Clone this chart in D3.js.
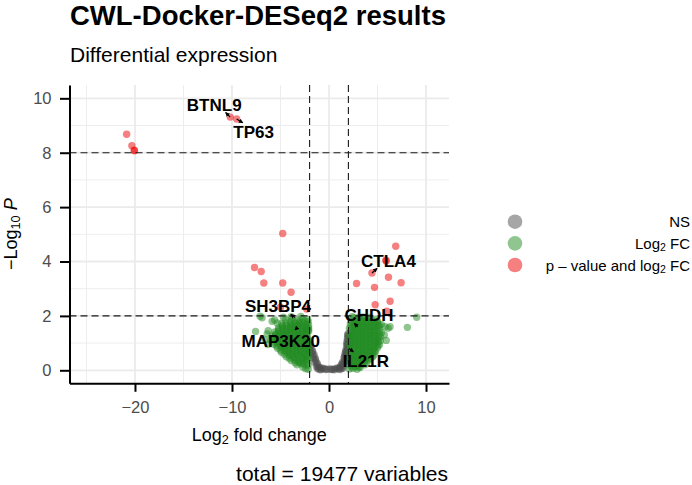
<!DOCTYPE html>
<html>
<head>
<meta charset="utf-8">
<title>CWL-Docker-DESeq2 results</title>
<script src="https://cdn.jsdelivr.net/npm/d3@7"></script>
<style>
  body { margin: 0; background: #fff; }
  svg text { font-family: "Liberation Sans", Arial, Helvetica, sans-serif; }
</style>
</head>
<body>
<div id="chart"></div>
<script>
// values, each point is [log2 fold change, -log10 p]
var nsPoints = [
  [-1.1,0.05],[-0.8,0.04],[-0.5,0.06],[-0.2,0.04],[0.1,0.05],[0.4,0.04],[0.7,0.06],[1.0,0.05],[1.3,0.07],
  [-0.95,0.1],[-0.65,0.08],[0.85,0.09],[1.1,0.1],
  [-0.9,0.02],[-0.35,0.03],[0.25,0.03],[0.55,0.02],[1.15,0.03],[-1.2,0.08],[1.45,0.08],
  [-1.3,0.15],[-1.05,0.13],[1.2,0.15],[1.5,0.17],
  [-1.2,0.22],[1.3,0.22],[1.45,0.25],
  [-1.5,0.3],[-1.25,0.28],[1.4,0.3],[1.7,0.32],
  [-1.4,0.37],[1.6,0.38],
  [-1.65,0.45],[-1.4,0.43],[1.55,0.45],[1.85,0.47],
  [-1.55,0.52],[1.75,0.53],[1.6,0.52],
  [-1.8,0.6],[-1.55,0.58],[1.65,0.6],[1.9,0.62],
  [-1.7,0.67],[1.8,0.68],[1.7,0.68],
  [-1.95,0.75],[-1.7,0.72],[1.75,0.75],[1.95,0.78],
  [-1.85,0.82],[1.9,0.83],
  [-1.95,0.88],[1.8,0.9],[1.95,0.95],[-1.98,0.95],
  [1.85,0.98],[1.85,1.05],[1.95,1.12],[1.9,1.18],[1.97,1.25],[1.92,1.3],[1.98,1.35]
];

var fcPoints = [
  // left cloud
  [-2.4,0.06],[-2.15,0.04],[-2.7,0.12],
  [-3.3,0.2],[-2.9,0.24],[-2.5,0.21],[-2.15,0.19],
  [-3.5,0.28],[-3.1,0.29],[-2.7,0.27],[-2.3,0.3],
  [-3.9,0.36],[-3.5,0.38],[-3.1,0.34],[-2.7,0.39],[-2.3,0.36],
  [-4.1,0.44],[-3.7,0.45],[-3.3,0.43],[-2.9,0.46],[-2.5,0.44],[-2.2,0.42],
  [-4.4,0.5],[-4.0,0.54],[-3.6,0.51],[-3.2,0.55],[-2.8,0.5],[-2.4,0.53],[-2.1,0.49],
  [-4.6,0.59],[-4.2,0.6],[-3.8,0.58],[-3.4,0.61],[-3.0,0.59],[-2.6,0.6],[-2.2,0.58],
  [-4.9,0.66],[-4.5,0.69],[-4.1,0.65],[-3.7,0.68],[-3.3,0.66],[-2.9,0.7],[-2.5,0.65],[-2.1,0.68],
  [-5.0,0.74],[-4.6,0.75],[-4.2,0.73],[-3.8,0.76],[-3.4,0.74],[-3.0,0.75],[-2.6,0.73],[-2.25,0.76],
  [-5.3,0.81],[-4.9,0.84],[-4.5,0.8],[-4.1,0.83],[-3.7,0.81],[-3.3,0.85],[-2.9,0.8],[-2.5,0.83],[-2.15,0.8],
  [-5.4,0.89],[-5.0,0.9],[-4.6,0.88],[-4.2,0.91],[-3.8,0.89],[-3.4,0.9],[-3.0,0.88],[-2.6,0.91],[-2.2,0.89],
  [-5.7,0.96],[-5.3,0.99],[-4.9,0.95],[-4.5,0.98],[-4.1,0.96],[-3.7,1.0],[-3.3,0.95],[-2.9,0.98],[-2.5,0.96],[-2.1,0.99],
  [-5.7,1.04],[-5.3,1.05],[-4.9,1.03],[-4.5,1.06],[-4.1,1.04],[-3.7,1.05],[-3.3,1.03],[-2.9,1.06],[-2.5,1.04],[-2.2,1.05],
  [-6.0,1.11],[-5.6,1.14],[-5.2,1.1],[-4.8,1.13],[-4.4,1.11],[-4.0,1.15],[-3.6,1.1],[-3.2,1.13],[-2.8,1.11],[-2.4,1.14],[-2.1,1.1],
  [-5.7,1.19],[-5.3,1.2],[-4.9,1.18],[-4.5,1.21],[-4.1,1.19],[-3.7,1.2],[-3.3,1.18],[-2.9,1.21],[-2.5,1.19],[-2.2,1.2],
  [-5.9,1.26],[-5.5,1.29],[-5.1,1.25],[-4.7,1.28],[-4.3,1.26],[-3.9,1.3],[-3.5,1.25],[-3.1,1.28],[-2.7,1.26],[-2.3,1.29],
  [-5.5,1.34],[-5.1,1.35],[-4.7,1.33],[-4.3,1.36],[-3.9,1.34],[-3.5,1.35],[-3.1,1.33],[-2.7,1.36],[-2.3,1.34],
  [-5.6,1.41],[-5.2,1.44],[-4.8,1.4],[-4.4,1.43],[-4.0,1.41],[-3.6,1.45],[-3.2,1.4],[-2.8,1.43],[-2.4,1.41],[-2.1,1.44],
  [-5.2,1.49],[-4.8,1.5],[-4.4,1.48],[-4.0,1.51],[-3.6,1.49],[-3.2,1.5],[-2.8,1.48],[-2.4,1.51],[-2.1,1.49],
  [-5.2,1.56],[-4.8,1.59],[-4.4,1.55],[-4.0,1.58],[-3.6,1.56],[-3.2,1.6],[-2.8,1.55],[-2.4,1.58],[-2.1,1.56],
  [-4.8,1.64],[-4.4,1.65],[-4.0,1.63],[-3.6,1.66],[-3.2,1.64],[-2.8,1.65],[-2.4,1.63],[-2.1,1.66],
  [-4.9,1.71],[-4.4,1.74],[-3.9,1.7],[-3.5,1.73],[-3.1,1.71],[-2.7,1.75],[-2.3,1.7],
  [-4.0,1.79],[-3.5,1.8],[-3.0,1.78],[-2.5,1.81],[-2.15,1.79],
  [-4.5,1.86],[-3.8,1.89],[-3.2,1.85],[-2.7,1.9],[-2.2,1.87],
  [-7.57,1.43],[-6.9,1.93],[-7.1,1.99],[-5.86,1.8],[-5.34,1.74],[-6.37,1.34],[-6.27,1.46],
  [-6.6,1.12],[-6.3,0.95],[-5.6,1.85],[-3.9,1.97],[-2.9,1.98],[-4.7,1.95],
  // right cloud
  [2.1,0.05],[2.5,0.07],[2.9,0.04],[3.2,0.1],
  [2.3,0.13],[2.7,0.14],[3.1,0.12],
  [2.15,0.2],[2.5,0.22],[2.9,0.19],[3.3,0.23],[3.7,0.2],
  [2.3,0.28],[2.7,0.29],[3.1,0.27],[3.5,0.3],[3.9,0.28],
  [2.1,0.35],[2.5,0.38],[2.9,0.34],[3.3,0.37],[3.7,0.35],[4.1,0.38],
  [2.3,0.43],[2.7,0.44],[3.1,0.42],[3.5,0.45],[3.9,0.43],[4.3,0.44],
  [2.2,0.5],[2.6,0.53],[3.0,0.49],[3.4,0.52],[3.8,0.5],[4.2,0.54],[4.5,0.5],
  [2.3,0.58],[2.7,0.59],[3.1,0.57],[3.5,0.6],[3.9,0.58],[4.3,0.59],[4.65,0.57],
  [2.1,0.65],[2.5,0.68],[2.9,0.64],[3.3,0.67],[3.7,0.65],[4.1,0.69],[4.5,0.65],[4.8,0.68],
  [2.3,0.73],[2.7,0.74],[3.1,0.72],[3.5,0.75],[3.9,0.73],[4.3,0.74],[4.7,0.72],
  [2.2,0.8],[2.6,0.83],[3.0,0.79],[3.4,0.82],[3.8,0.8],[4.2,0.84],[4.6,0.8],[5.0,0.83],
  [2.3,0.88],[2.7,0.89],[3.1,0.87],[3.5,0.9],[3.9,0.88],[4.3,0.89],[4.7,0.87],[5.05,0.9],
  [2.1,0.95],[2.5,0.98],[2.9,0.94],[3.3,0.97],[3.7,0.95],[4.1,0.99],[4.5,0.95],[4.9,0.98],[5.2,0.94],
  [2.3,1.03],[2.7,1.04],[3.1,1.02],[3.5,1.05],[3.9,1.03],[4.3,1.04],[4.7,1.02],[5.1,1.05],
  [2.2,1.1],[2.6,1.13],[3.0,1.09],[3.4,1.12],[3.8,1.1],[4.2,1.14],[4.6,1.1],[5.0,1.13],[5.3,1.09],
  [2.3,1.18],[2.7,1.19],[3.1,1.17],[3.5,1.2],[3.9,1.18],[4.3,1.19],[4.7,1.17],[5.1,1.2],
  [2.1,1.25],[2.5,1.28],[2.9,1.24],[3.3,1.27],[3.7,1.25],[4.1,1.29],[4.5,1.25],[4.9,1.28],[5.3,1.24],
  [2.3,1.33],[2.7,1.34],[3.1,1.32],[3.5,1.35],[3.9,1.33],[4.3,1.34],[4.7,1.32],[5.2,1.35],
  [2.2,1.4],[2.6,1.43],[3.0,1.39],[3.4,1.42],[3.8,1.4],[4.2,1.44],[4.6,1.4],[5.0,1.43],[5.4,1.39],
  [2.3,1.48],[2.7,1.49],[3.1,1.47],[3.5,1.5],[3.9,1.48],[4.3,1.49],[4.7,1.47],[5.2,1.5],
  [2.1,1.55],[2.5,1.58],[2.9,1.54],[3.3,1.57],[3.7,1.55],[4.1,1.59],[4.5,1.55],[4.9,1.58],
  [2.3,1.63],[2.7,1.64],[3.1,1.62],[3.5,1.65],[3.9,1.63],[4.3,1.64],[4.7,1.62],[5.2,1.65],
  [2.2,1.7],[2.6,1.73],[3.0,1.69],[3.4,1.72],[3.8,1.7],[4.2,1.74],[4.6,1.7],[5.0,1.73],[5.4,1.69],
  [2.3,1.78],[2.7,1.79],[3.1,1.77],[3.5,1.8],[3.9,1.78],[4.3,1.79],[4.7,1.77],[5.0,1.8],
  [2.3,1.85],[2.8,1.88],[3.3,1.84],[3.9,1.87],[4.4,1.85],[4.9,1.88],
  [2.6,1.93],[3.1,1.95],[3.7,1.92],[4.2,1.94],
  [9.04,1.95],[8.08,1.58],[5.79,1.6],[6.3,1.6],[5.1,1.62],[5.7,1.3],[5.9,1.1],[6.1,1.55],[2.4,1.97],[3.5,1.96]
];

var bothPoints = [
  [-20.86,8.68],[-20.32,8.26],[-20.08,8.09],[-20.05,8.07],
  [-10.18,9.31],[-9.52,9.24],
  [-4.77,5.03],[-7.68,3.78],[-6.99,3.63],[-6.72,3.21],[-4.77,3.21],[-3.91,2.87],
  [-5.0,2.32],[-2.3,2.25],
  [6.88,4.56],[5.86,4.05],[5.9,4.02],[4.43,3.58],[6.13,3.42],[7.43,3.22],
  [2.84,3.19],[4.69,3.05],[4.76,2.41],[6.3,2.54],[5.96,2.17]
];

var genes = ['BTNL9', 'TP63', 'CTLA4', 'SH3BP4', 'MAP3K20', 'CHDH', 'IL21R'];
var geneFC = [-10.18, -9.52, 4.43, -3.51, -3.27, 2.96, 2.06];
var geneP = [9.31, 9.24, 3.58, 1.94, 1.57, 1.60, 0.80];

var xTicks = [-20, -10, 0, 10];
var xMinor = [-25, -15, -5, 5];
var yTicks = [0, 2, 4, 6, 8, 10];
var yMinor = [1, 3, 5, 7, 9];
var fcCutoffs = [-2, 2];
var pCutoffs = [2, 8];

var legendKeys = ['NS', 'FC', 'both'];
var totalVariables = 19477;

// layout (px)
var width = 692, height = 485;
var panel = {left: 69.5, right: 449, top: 85, bottom: 383.3};
// label text offset [dx, dy] and connector end [ex, ey], relative to the point
var labelPos = [[-16, -6.3, -4.5, -4.5], [17, 19.3, 6, 3.7], [16.5, -6.3, 5, -4.5],
                [-17, -5.8, -4, -3], [-16.5, 19, -2.3, 2.3], [11.3, -6, -3.4, -3.4],
                [16.8, 18.2, 4.3, 3.3]];

var colours = {NS: '#4d4d4d', FC: '#228b22', both: '#ee0000'};

var x = d3.scaleLinear().domain([-26.75, 12.37]).range([panel.left, panel.right]);
var y = d3.scaleLinear().domain([-0.478, 10.49]).range([panel.bottom, panel.top]);

var svg = d3.select('#chart').append('svg')
    .attr('width', width)
    .attr('height', height);

// grid
var grid = svg.append('g').attr('stroke', '#ebebeb');
grid.selectAll('line.xminor').data(xMinor).enter().append('line')
    .attr('x1', d => x(d)).attr('x2', d => x(d))
    .attr('y1', panel.top).attr('y2', panel.bottom).attr('stroke-width', 0.9);
grid.selectAll('line.yminor').data(yMinor).enter().append('line')
    .attr('y1', d => y(d)).attr('y2', d => y(d))
    .attr('x1', panel.left).attr('x2', panel.right).attr('stroke-width', 0.9);
grid.selectAll('line.xmajor').data(xTicks).enter().append('line')
    .attr('x1', d => x(d)).attr('x2', d => x(d))
    .attr('y1', panel.top).attr('y2', panel.bottom).attr('stroke-width', 1.8);
grid.selectAll('line.ymajor').data(yTicks).enter().append('line')
    .attr('y1', d => y(d)).attr('y2', d => y(d))
    .attr('x1', panel.left).attr('x2', panel.right).attr('stroke-width', 1.8);

// points
function drawPoints(data, colour) {
  svg.append('g').selectAll('circle').data(data).enter().append('circle')
      .attr('cx', d => x(d[0]))
      .attr('cy', d => y(d[1]))
      .attr('r', 3.7)
      .attr('fill', colour)
      .attr('fill-opacity', 0.5);
}
drawPoints(nsPoints, colours.NS);
drawPoints(fcPoints, colours.FC);
drawPoints(bothPoints, colours.both);

// cutoff lines
var cut = svg.append('g').attr('stroke', '#1a1a1a').attr('stroke-width', 1.1)
    .attr('stroke-dasharray', '7,4');
cut.selectAll('line.v').data(fcCutoffs).enter().append('line')
    .attr('x1', d => x(d)).attr('x2', d => x(d))
    .attr('y1', panel.top).attr('y2', panel.bottom);
cut.selectAll('line.h').data(pCutoffs).enter().append('line')
    .attr('y1', d => y(d)).attr('y2', d => y(d))
    .attr('x1', panel.left).attr('x2', panel.right);

// axes
var xAxis = svg.append('g')
    .attr('transform', 'translate(0,' + panel.bottom + ')')
    .call(d3.axisBottom(x).tickValues(xTicks).tickSize(8.5).tickSizeOuter(0).tickPadding(9.5));
var yAxis = svg.append('g')
    .attr('transform', 'translate(' + panel.left + ',0)')
    .call(d3.axisLeft(y).tickValues(yTicks).tickSize(9.5).tickSizeOuter(0).tickPadding(8.5));
[xAxis, yAxis].forEach(function(a) {
  a.select('.domain').attr('stroke', '#000').attr('stroke-width', 2);
  a.selectAll('.tick line').attr('stroke', '#000').attr('stroke-width', 2);
  a.selectAll('.tick text')
      .attr('fill', '#4d4d4d')
      .style('font-size', '16.5px')
      .style('font-family', '"Liberation Sans", Arial, sans-serif');
});

// text with a subscript: parts = [[text, 'n'|'sub'|'it'], ...]
function richText(sel, parts, size) {
  parts.forEach(function(p) {
    var t = sel.append('tspan').text(p[0]);
    if (p[1] === 'sub') t.style('font-size', (size * 0.7) + 'px').attr('baseline-shift', '-22%');
    if (p[1] === 'it') t.style('font-style', 'italic');
  });
}

// connectors and gene labels
svg.append('defs').append('marker')
    .attr('id', 'arrow')
    .attr('viewBox', '0 0 6 6')
    .attr('refX', 5).attr('refY', 3)
    .attr('markerWidth', 3.5).attr('markerHeight', 3.5)
    .attr('orient', 'auto')
    .append('path').attr('d', 'M0,0L6,3L0,6z').attr('fill', '#000');

var lab = svg.append('g');
genes.forEach(function(g, i) {
  var px = x(geneFC[i]), py = y(geneP[i]), o = labelPos[i];
  lab.append('line')
      .attr('x1', px).attr('y1', py)
      .attr('x2', px + o[2]).attr('y2', py + o[3])
      .attr('stroke', '#000').attr('stroke-width', 1.3)
      .attr('marker-end', 'url(#arrow)');
  lab.append('text')
      .attr('x', px + o[0]).attr('y', py + o[1])
      .attr('text-anchor', 'middle')
      .style('font-size', '17px').style('font-weight', 'bold')
      .text(g);
});

// axis titles
var xt = svg.append('text')
    .attr('x', (panel.left + panel.right) / 2).attr('y', 441)
    .attr('text-anchor', 'middle').style('font-size', '18px');
richText(xt, [['Log', 'n'], ['2', 'sub'], [' fold change', 'n']], 18);

var yt = svg.append('text')
    .attr('transform', 'translate(17,' + ((panel.top + panel.bottom) / 2) + ') rotate(-90)')
    .attr('text-anchor', 'middle').style('font-size', '18px');
richText(yt, [['\u2212Log', 'n'], ['10', 'sub'], [' ', 'n'], ['P', 'it']], 18);

// legend
var legendText = {
  NS: [['NS', 'n']],
  FC: [['Log', 'n'], ['2', 'sub'], [' FC', 'n']],
  both: [['p \u2013 value and log', 'n'], ['2', 'sub'], [' FC', 'n']]
};
var leg = svg.append('g');
legendKeys.forEach(function(k, i) {
  var cy = 221.7 + i * 21.65;
  leg.append('circle').attr('cx', 515).attr('cy', cy).attr('r', 7.3)
      .attr('fill', colours[k]).attr('fill-opacity', 0.5);
  var t = leg.append('text').attr('x', 690).attr('y', cy + 5.5)
      .attr('text-anchor', 'end').style('font-size', '15px');
  richText(t, legendText[k], 15);
});

// titles
svg.append('text').attr('x', 70).attr('y', 25)
    .style('font-size', '27.5px').style('font-weight', 'bold')
    .text('CWL-Docker-DESeq2 results');
svg.append('text').attr('x', 70).attr('y', 62)
    .style('font-size', '21px')
    .text('Differential expression');
svg.append('text').attr('x', 448).attr('y', 481)
    .attr('text-anchor', 'end')
    .style('font-size', '21px')
    .text('total = ' + totalVariables + ' variables');
</script>
</body>
</html>
